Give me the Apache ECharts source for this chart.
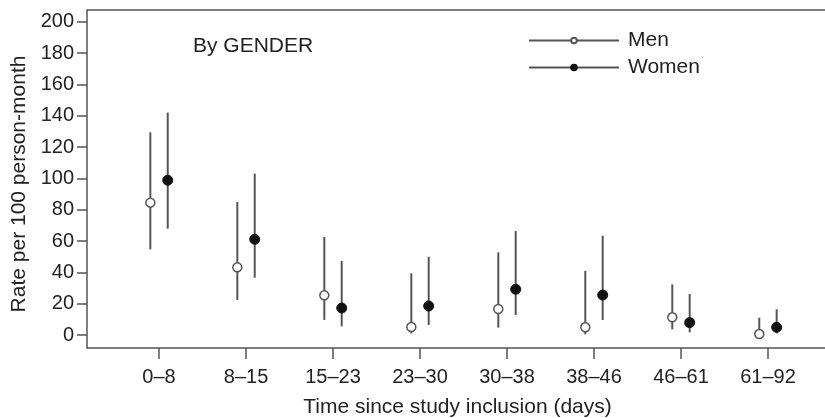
<!DOCTYPE html>
<html>
<head>
<meta charset="utf-8">
<script src="https://cdn.jsdelivr.net/npm/echarts@6/dist/echarts.min.js"></script>
<style>
  html, body { margin: 0; padding: 0; background: #fff; }
  #main { width: 825px; height: 418px; }
</style>
</head>
<body>
<div id="main"></div>
<script>
// categories (time since inclusion, days)
var categories = ["0–8", "8–15", "15–23", "23–30", "30–38", "38–46", "46–61", "61–92"];
// rates per 100 person-month: point estimate, lower, upper
var menRate  = [84.5, 43.2, 25.3, 5.1, 16.6, 4.9, 11.3, 0.6];
var menLow   = [54.7, 22.4, 9.6, 1.0, 4.7, 0.4, 3.6, 0.0];
var menHigh  = [129.4, 84.9, 62.6, 39.4, 52.8, 41.0, 32.3, 11.0];
var womenRate = [98.8, 61.1, 17.2, 18.5, 29.2, 25.5, 7.9, 4.9];
var womenLow  = [67.9, 36.6, 5.5, 6.4, 12.8, 9.6, 1.7, 1.0];
var womenHigh = [142.0, 103.0, 47.3, 50.0, 66.4, 63.4, 26.2, 16.4];
var yTicks = [0, 20, 40, 60, 80, 100, 120, 140, 160, 180, 200];

var FONT = "Liberation Sans";
var AXIS = "#555";
var shift = 0.1;

var catPos = categories.map(function(c, i) { return i + 1; });

function points(vals, off) {
  return vals.map(function(v, i) { return [i + 1 + off, v]; });
}
function bars(lo, hi, off) {
  return lo.map(function(v, i) { return [i + 1 + off, v, hi[i]]; });
}
function renderBar(params, api) {
  var a = api.coord([api.value(0), api.value(1)]);
  var b = api.coord([api.value(0), api.value(2)]);
  return {
    type: "line",
    shape: { x1: a[0], y1: a[1], x2: b[0], y2: b[1] },
    style: { stroke: AXIS, lineWidth: 2 }
  };
}

var chart = echarts.init(document.getElementById("main"));
chart.setOption({
  animation: false,
  textStyle: { fontFamily: FONT, color: "#222" },
  title: {
    text: "By GENDER",
    left: 193, top: 36, padding: 0,
    textStyle: { fontFamily: FONT, fontSize: 21, fontWeight: "normal", color: "#222" }
  },
  legend: {
    data: ["Men", "Women"],
    orient: "vertical",
    left: 528, top: 30, padding: 0,
    itemWidth: 90, itemHeight: 7, itemGap: 6,
    textStyle: { fontFamily: FONT, fontSize: 21, color: "#222", padding: [0, 0, 0, 4] },
    lineStyle: { width: 2, color: AXIS, opacity: 1 }
  },
  // top edge of the plot box (the original is cropped on the right)
  graphic: [{
    type: "line",
    shape: { x1: 87, y1: 10, x2: 825, y2: 10 },
    style: { stroke: AXIS, lineWidth: 1.5 }
  }],
  grid: { left: 87, right: -3, top: 10, bottom: 70, outerBoundsMode: "none" },
  xAxis: {
    type: "value",
    min: 0.172, max: 8.69,
    name: "Time since study inclusion (days)",
    nameLocation: "middle", nameGap: 49,
    nameTextStyle: { fontFamily: FONT, fontSize: 21, color: "#222" },
    splitLine: { show: false },
    axisLine: { onZero: false, lineStyle: { color: AXIS, width: 1.5 } },
    axisTick: { show: true, length: 11, customValues: catPos, lineStyle: { color: AXIS, width: 1.5 } },
    axisLabel: {
      customValues: catPos, margin: 19,
      fontFamily: FONT, fontSize: 20, color: "#222",
      formatter: function(v) { return categories[Math.round(v) - 1] || ""; }
    }
  },
  yAxis: {
    type: "value",
    min: -8.3, max: 207.5,
    name: "Rate per 100 person-month",
    nameLocation: "middle", nameGap: 48,
    nameTextStyle: { fontFamily: FONT, fontSize: 21, color: "#222", padding: [0, 10, 0, 0] },
    splitLine: { show: false },
    axisLine: { show: true, onZero: false, lineStyle: { color: AXIS, width: 1.5 } },
    axisTick: { show: true, length: 10, customValues: yTicks, lineStyle: { color: AXIS, width: 1.5 } },
    axisLabel: { customValues: yTicks, margin: 13, fontFamily: FONT, fontSize: 20, color: "#222" }
  },
  series: [
    { type: "custom", name: "menCI", renderItem: renderBar, data: bars(menLow, menHigh, -shift), z: 1 },
    { type: "custom", name: "womenCI", renderItem: renderBar, data: bars(womenLow, womenHigh, shift), z: 1 },
    {
      type: "line", name: "Men", data: points(menRate, -shift),
      symbol: "circle", symbolSize: 9, showSymbol: true,
      lineStyle: { width: 0, opacity: 0 },
      itemStyle: { color: "#fff", borderColor: AXIS, borderWidth: 1.5 },
      z: 3
    },
    {
      type: "line", name: "Women", data: points(womenRate, shift),
      symbol: "circle", symbolSize: 10, showSymbol: true,
      lineStyle: { width: 0, opacity: 0 },
      itemStyle: { color: "#111", borderColor: "#111", borderWidth: 1 },
      z: 3
    }
  ]
});
</script>
</body>
</html>
